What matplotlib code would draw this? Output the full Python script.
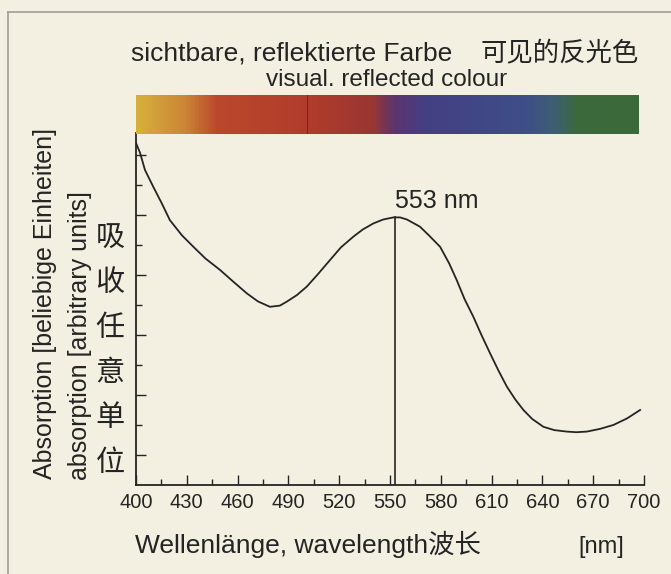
import matplotlib
matplotlib.use("Agg")
import matplotlib.pyplot as plt
import numpy as np
from matplotlib.colors import LinearSegmentedColormap
from matplotlib.lines import Line2D

plt.rcParams['font.family'] = ['Liberation Sans', 'Noto Sans CJK SC']

# absorption curve (nm, arbitrary units)
wavelength = [400, 402.4, 405.3, 410.2, 415.2, 420, 427, 433.9, 441, 449.6, 457,
              465.4, 472, 479.1, 485, 489, 495, 500.8, 507, 514.6, 521, 528.4,
              534, 540.2, 546, 552, 556, 560, 567.7, 573, 579.6, 585, 589.4,
              594, 599.2, 604, 609.1, 614, 619, 624, 628.8, 634, 640.6, 647,
              654.4, 660, 666.2, 674, 681.9, 690, 697.7]
absorption = [11.4, 11.07, 10.5, 9.94, 9.39, 8.83, 8.33, 7.94, 7.55, 7.17, 6.8,
              6.39, 6.12, 5.94, 5.98, 6.11, 6.33, 6.61, 7.0, 7.5, 7.92, 8.28,
              8.52, 8.72, 8.85, 8.92, 8.92, 8.85, 8.61, 8.32, 7.94, 7.38, 6.83,
              6.2, 5.61, 5.0, 4.39, 3.82, 3.28, 2.85, 2.5, 2.2, 1.94, 1.83,
              1.78, 1.76, 1.78, 1.87, 2.0, 2.22, 2.5]
peak_nm = 553
peak_val = 8.92

xticks = [400, 430, 460, 490, 520, 550, 580, 610, 640, 670, 700]

# reflected colour bar stops
bar_nm = [400, 428, 447, 500, 540, 553, 572, 630, 648, 662, 697]
bar_colors = ['#d6b03c', '#cc8636', '#bb482d', '#b23c2b', '#993633', '#5a3570',
              '#443f84', '#3f4e88', '#3e5f70', '#3c693c', '#3b6a3a']

bg = '#f4f0e1'
ink = '#242424'
W, H = 671, 574


def fx(x):
    return x / W


def fy(y):
    return 1 - y / H


fig = plt.figure(figsize=(6.71, 5.74), dpi=100, facecolor=bg)

# main axes
ax = fig.add_axes([fx(136), fy(485), (644 - 136) / W, (485 - 133) / H])
ax.set_facecolor(bg)
ax.plot(wavelength, absorption, color=ink, lw=1.3)
ax.plot([peak_nm, peak_nm], [0, peak_val], color=ink, lw=1.2)
ax.set_xlim(400, 700)
ax.set_ylim(0, (485 - 133) / 30)
for s in ['top', 'right']:
    ax.spines[s].set_visible(False)
for s in ['left', 'bottom']:
    ax.spines[s].set_color(ink)
    ax.spines[s].set_linewidth(1.3)
ax.set_xticks(xticks)
ax.set_xticks(np.arange(415, 700, 30), minor=True)
ax.set_yticks([1, 3, 5, 7, 9, 11])
ax.set_yticks([2, 4, 6, 8, 10], minor=True)
ax.set_yticklabels([])
ax.tick_params(which='major', direction='in', length=7, width=1, color=ink,
               labelsize=14.5, labelcolor=ink, pad=6)
ax.tick_params(which='minor', direction='in', length=4, width=1, color=ink)
ax.text(peak_nm, peak_val + 0.15, '553 nm', fontsize=18, color=ink,
        ha='left', va='bottom')

# colour bar
cax = fig.add_axes([fx(136), fy(134), (639 - 136) / W, (134 - 95) / H])
pos = [(n - bar_nm[0]) / (bar_nm[-1] - bar_nm[0]) for n in bar_nm]
cmap = LinearSegmentedColormap.from_list('refl', list(zip(pos, bar_colors)))
cax.imshow(np.linspace(0, 1, 400)[None, :], cmap=cmap, aspect='auto',
           extent=[bar_nm[0], bar_nm[-1], 0, 1])
cax.axvline(501, color='#7d2620', lw=0.8)
cax.set_xticks([])
cax.set_yticks([])
for s in cax.spines.values():
    s.set_visible(False)

# page frame
fig.add_artist(Line2D([fx(8), fx(8)], [fy(12), 0], color='#a09e94', lw=1.2))
fig.add_artist(Line2D([fx(8), 1], [fy(12), fy(12)], color='#a09e94', lw=1.2))

# titles
fig.text(fx(131), fy(60), 'sichtbare, reflektierte Farbe', fontsize=19,
         color=ink, va='baseline')
fig.text(fx(639), fy(60), '可见的反光色', fontsize=19, color=ink,
         ha='right', va='baseline', family='Noto Sans CJK SC')
fig.text(fx(387), fy(86), 'visual. reflected colour', fontsize=17.5,
         color=ink, ha='center', va='baseline')

# y labels
fig.text(fx(45), fy(479), 'Absorption [beliebige Einheiten]', fontsize=18,
         color=ink, rotation=90, ha='center', va='bottom')
fig.text(fx(80), fy(480), 'absorption [arbitrary units]', fontsize=18,
         color=ink, rotation=90, ha='center', va='bottom')
for i, ch in enumerate('吸收任意单位'):
    fig.text(fx(110), fy(238 + 45 * i), ch, fontsize=21, color=ink,
             ha='center', va='center', family='Noto Sans CJK SC')

# x labels
fig.text(fx(135), fy(553), 'Wellenlänge, wavelength波长', fontsize=19,
         color=ink, va='baseline')
fig.text(fx(578), fy(553), '[nm]', fontsize=17, color=ink, va='baseline')

fig.savefig('out.png', dpi=100, facecolor=bg)
